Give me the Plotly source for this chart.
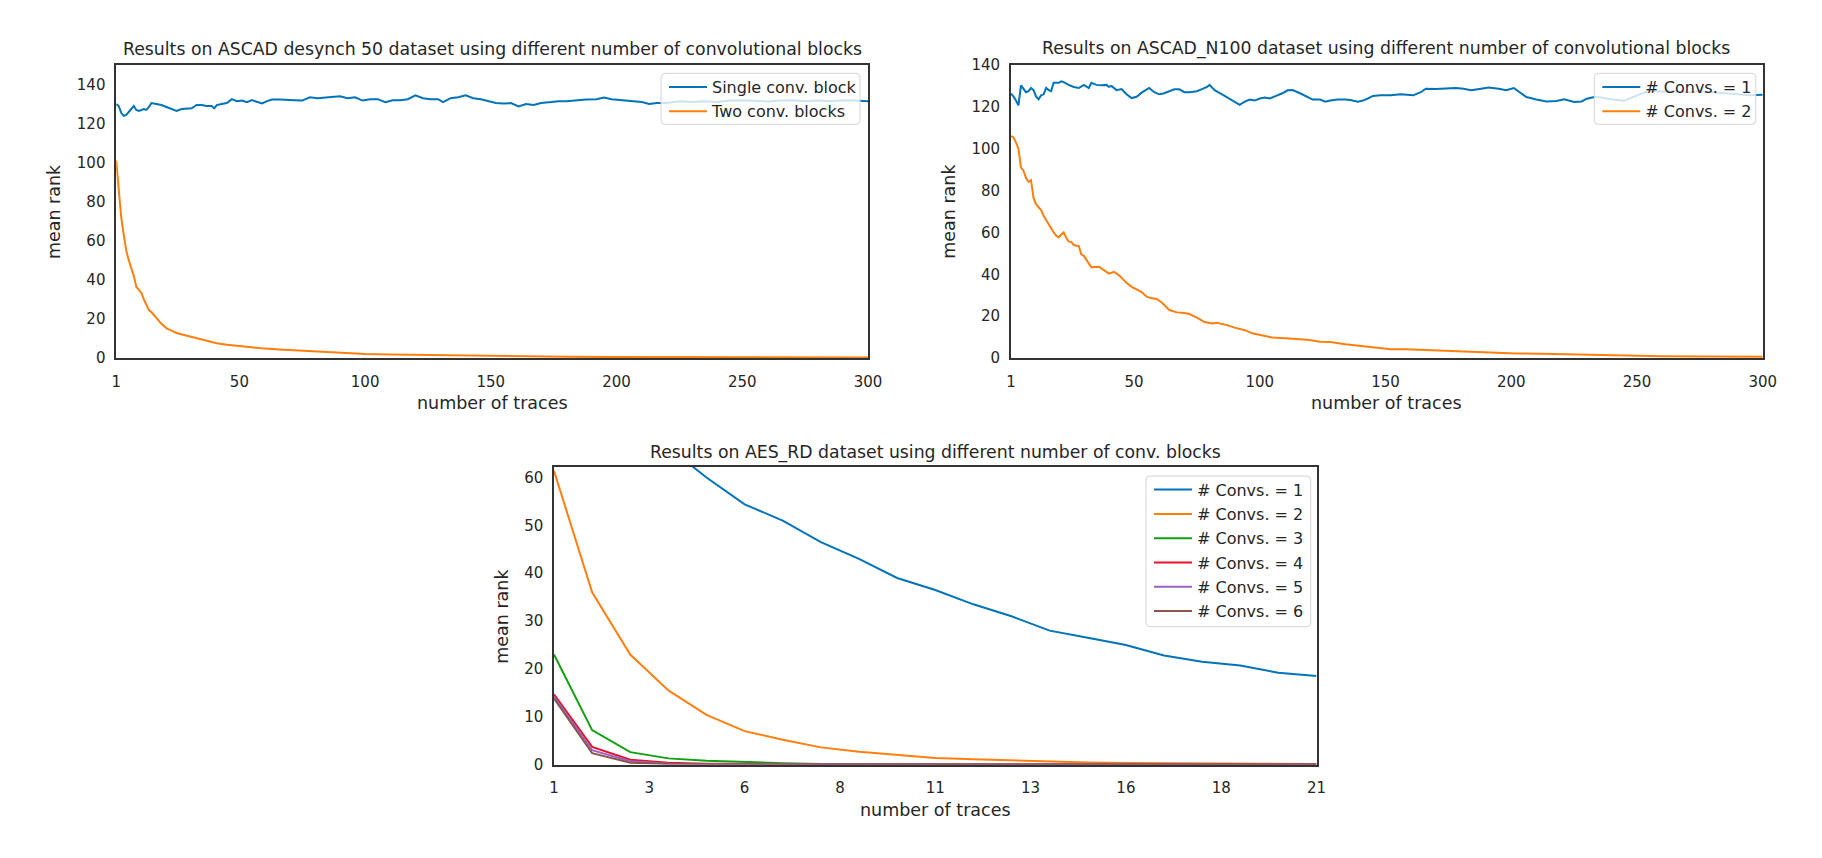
import plotly.graph_objects as go

# ---------------- data: top-left (ASCAD desynch 50) ----------------
tl_single_x = [1, 2, 3, 4, 5, 6, 7, 8, 9, 10, 12, 13, 14, 15, 17, 19, 21, 23, 25, 27, 29, 31, 33, 35, 37, 39, 40, 41,
               43, 45, 47, 49, 51, 53, 55, 57, 59, 61, 63, 66, 69, 72, 75, 78, 81, 84, 87, 90, 93, 96, 99, 102, 105,
               108, 111, 114, 117, 120, 123, 126, 129, 131, 134, 137, 140, 143, 146, 149, 152, 155, 158, 161, 164,
               167, 170, 174, 177, 180, 184, 188, 192, 195, 198, 202, 206, 210, 213, 216, 220, 225, 230, 235, 240,
               245, 250, 255, 260, 265, 270, 275, 280, 285, 290, 295, 300]
tl_single_y = [130, 129, 125.5, 124, 124.5, 126, 127.5, 129, 127, 126.5, 127.5, 127, 128.5, 130.5, 130, 129.5, 128.5,
               127.5, 126.5, 127.5, 127.8, 127.8, 129.5, 129.5, 129, 129, 127.8, 129.5, 130, 130.5, 132.5, 131.5,
               131.8, 131, 132, 131.3, 130.3, 131.5, 132.3, 132.3, 132, 132, 131.8, 133.5, 133, 133.3, 133.5, 134,
               133, 133.5, 131.8, 132.5, 132.5, 131, 132, 132, 132.5, 134.5, 133, 132.5, 132.5, 131, 133, 133.5,
               134.5, 133, 132.5, 131.5, 130.5, 130.3, 130.5, 128.8, 130, 129.5, 130.5, 131, 131.5, 131.5, 132,
               132.3, 132.5, 133.3, 132.5, 132, 131.5, 131, 130, 130.5, 130.5, 131.5, 131, 131.5, 131, 131.8, 132,
               131.5, 131.3, 131.8, 132, 131.5, 131.8, 131.5, 132, 131.8, 131.5]

tl_two_x = [1, 2, 3, 4, 5, 6, 7, 8, 9, 10, 11, 12, 13, 14, 15, 16, 17, 18, 19, 20, 21, 23, 25, 28, 31, 35, 38, 41,
            45, 50, 55, 60, 66, 74, 80, 87, 94, 100, 110, 120, 130, 140, 150, 165, 180, 200, 220, 250, 275, 300]
tl_two_y = [101, 85, 72, 63, 55, 50, 46.5, 42, 36.5, 35, 33.3, 30, 27, 24.5, 23.5, 21.8, 20.5, 19, 17.5, 16.2, 15.2,
            14, 12.8, 11.8, 10.8, 9.6, 8.6, 7.6, 6.8, 6.1, 5.3, 4.8, 4.3, 3.7, 3.2, 2.7, 2.3, 2.0, 1.8, 1.6, 1.3,
            1.1, 0.9, 0.7, 0.6, 0.5, 0.4, 0.3, 0.25, 0.2]

# ---------------- data: top-right (ASCAD_N100) ----------------
tr_c1_x = [1, 2, 3, 4, 5, 6, 7, 8, 9, 10, 11, 12, 13, 14, 15, 16, 17, 18, 20, 21, 22, 24, 26, 28, 30, 32, 33, 35,
           37, 39, 40, 41, 43, 45, 47, 49, 51, 53, 55, 56, 58, 60, 62, 64, 66, 68, 70, 72, 75, 77, 79, 80, 82, 85,
           88, 90, 92, 94, 96, 98, 100, 102, 104, 106, 109, 111, 113, 116, 119, 121, 124, 126, 128, 131, 134, 136,
           139, 141, 143, 145, 148, 152, 156, 161, 164, 166, 170, 174, 178, 181, 184, 188, 191, 195, 198, 201,
           204, 206, 210, 214, 218, 221, 225, 228, 230, 233, 236, 240, 245, 250, 255, 260, 265, 270, 275, 280,
           285, 290, 295, 300]
tr_c1_y = [126.3, 125, 123, 120.7, 130.3, 128.5, 127, 127.5, 129, 128, 125, 123.6, 125.5, 126, 129, 128, 127.5,
           131.5, 131.5, 132.2, 131.8, 130.5, 129.5, 129, 130.5, 129, 131.5, 130.5, 130.3, 130.5, 129.5, 130, 128,
           128.5, 126, 124.2, 124.8, 126.8, 128.5, 129, 127, 126, 126.5, 127.3, 128.4, 128.4, 127, 127, 127.5,
           128.5, 129.5, 130.5, 128, 126, 124, 122.5, 121, 122.5, 123.5, 123, 124, 124.5, 124, 125, 126.5, 127.9,
           128, 126.5, 124.5, 123.5, 123.5, 122.5, 123, 123.5, 123.5, 123.3, 122.5, 123, 124, 125.2, 125.5, 125.5,
           126, 125.5, 127, 128.7, 128.5, 128.7, 129, 128.7, 127.9, 128.7, 129.2, 128.7, 127.9, 129, 126.5, 124.7,
           123.5, 122.6, 122.8, 123.6, 122.3, 122.6, 123.9, 124.7, 124.5, 123.5, 122.9, 125.5, 127.7, 127.3,
           127.5, 127, 127.5, 127, 126.5, 126, 125.5, 125.8]

tr_c2_x = [1, 2, 3, 4, 5, 6, 7, 8, 9, 10, 11, 12, 13, 14, 15, 16, 17, 18, 19, 20, 21, 22, 23, 24, 25, 26, 28, 29,
           30, 31, 33, 34, 36, 38, 40, 42, 44, 47, 49, 51, 53, 55, 57, 59, 61, 64, 67, 70, 72, 75, 78, 81, 83, 85,
           87, 90, 94, 97, 101, 105, 110, 115, 119, 124, 128, 134, 140, 145, 152, 158, 166, 175, 183, 193, 202,
           212, 222, 232, 240, 247, 260, 280, 300]
tr_c2_y = [106, 105.5, 103, 100, 91, 89.5, 86, 84.2, 85, 76.5, 73.5, 72, 70.7, 68, 66, 63.5, 61.4, 60, 58.5, 57.6,
           59, 60, 57.5, 55.6, 55.5, 54, 53.5, 49.5, 48.8, 47, 43.3, 43.5, 43.6, 42, 40.3, 41.2, 39.5, 35.9, 34,
           32.8, 31.5, 29.3, 28.5, 28.2, 26.5, 22.9, 21.8, 21.5, 21, 19.3, 17.2, 16.5, 16.8, 16.2, 15.7, 14.5, 13.3,
           11.8, 10.8, 9.8, 9.4, 8.9, 8.7, 7.8, 7.6, 6.6, 5.8, 5.1, 4.2, 4.2, 3.8, 3.6, 3.0, 2.5, 2.2, 2.0, 1.7,
           1.4, 1.4, 0.9, 0.8, 0.7, 0.6]

# ---------------- data: bottom (AES_RD) ----------------
rd_x = list(range(1, 22))
rd_c1 = [120, 90, 75, 66.3, 60, 54.4, 51, 46.5, 43, 39, 36.5, 33.5, 31, 28, 26.5, 25, 22.8, 21.5, 20.7, 19.2, 18.5]
rd_c2 = [61.4, 36, 23, 15.5, 10.4, 7.0, 5.2, 3.6, 2.7, 2.0, 1.4, 1.1, 0.85, 0.65, 0.45, 0.35, 0.3, 0.2, 0.15, 0.1, 0.1]
rd_c3 = [23, 7.2, 2.6, 1.3, 0.8, 0.5, 0.3, 0.15, 0.1, 0.08, 0.05, 0.05, 0.03, 0.03, 0.02, 0.02, 0.02, 0.01, 0.01, 0.01, 0.01]
rd_c4 = [14.7, 3.7, 1.0, 0.4, 0.2, 0.1, 0.05, 0.03, 0.02, 0.01, 0.01, 0, 0, 0, 0, 0, 0, 0, 0, 0, 0]
rd_c5 = [14.2, 3.0, 0.7, 0.2, 0.1, 0.05, 0.02, 0.01, 0, 0, 0, 0, 0, 0, 0, 0, 0, 0, 0, 0, 0]
rd_c6 = [13.8, 2.4, 0.4, 0.1, 0.05, 0.02, 0.01, 0, 0, 0, 0, 0, 0, 0, 0, 0, 0, 0, 0, 0, 0]

top_xticks = [1, 50, 100, 150, 200, 250, 300]
rd_xtickvals = [1, 3.5, 6, 8.5, 11, 13.5, 16, 18.5, 21]
rd_xticktext = ["1", "3", "6", "8", "11", "13", "16", "18", "21"]

titles = ["Results on ASCAD desynch 50 dataset using different number of convolutional blocks",
          "Results on ASCAD_N100 dataset using different number of convolutional blocks",
          "Results on AES_RD dataset using different number of conv. blocks"]

colors = ["#0173b8", "#ff7f0e", "#10a010", "#e8102a", "#9a62c9", "#8c564b"]

FONT = "DejaVu Sans"
TXT = "#262626"

# page geometry: the html body has an 8px margin, so the figure is made 16px smaller
W, H, OFF = 1806, 842, 8


def px(x):
    return (x - OFF) / W


def py(y):
    return 1 - (y - OFF) / H


fig = go.Figure()


def add(x, y, name, color, xa, ya, leg):
    fig.add_trace(go.Scatter(x=x, y=y, mode="lines", name=name, xaxis=xa, yaxis=ya, legend=leg,
                             legendgroup=leg + name, line=dict(color=color, width=2)))


add(tl_single_x, tl_single_y, "Single conv. block", colors[0], "x", "y", "legend")
add(tl_two_x, tl_two_y, "Two conv. blocks", colors[1], "x", "y", "legend")
add(tr_c1_x, tr_c1_y, "# Convs. = 1", colors[0], "x2", "y2", "legend2")
add(tr_c2_x, tr_c2_y, "# Convs. = 2", colors[1], "x2", "y2", "legend2")
for i, ser in enumerate([rd_c1, rd_c2, rd_c3, rd_c4, rd_c5, rd_c6]):
    add(rd_x, ser, "# Convs. = %d" % (i + 1), colors[i], "x3", "y3", "legend3")

ax_common = dict(showline=True, mirror=True, linecolor="#333333", linewidth=1.5, showgrid=False,
                 zeroline=False, ticks="", automargin=False, tickfont=dict(family=FONT, size=15, color=TXT))
xax = dict(ticklabelstandoff=9, **ax_common)
yax = dict(ticklabelstandoff=6, **ax_common)

TL = (116.2, 868.0, 65.0, 358.0)
TR = (1010.9, 1762.7, 65.0, 358.0)
BT = (554.0, 1316.5, 467.0, 764.6)

fig.update_layout(
    width=W, height=H, margin=dict(l=0, r=0, t=0, b=0, pad=0, autoexpand=False),
    paper_bgcolor="white", plot_bgcolor="white",
    font=dict(family=FONT, color=TXT),
    xaxis=dict(domain=[px(TL[0]), px(TL[1])], anchor="y", range=[1, 300], tickvals=top_xticks, **xax),
    yaxis=dict(domain=[py(TL[3]), py(TL[2])], anchor="x", range=[0, 150], tickvals=list(range(0, 141, 20)), **yax),
    xaxis2=dict(domain=[px(TR[0]), px(TR[1])], anchor="y2", range=[1, 300], tickvals=top_xticks, **xax),
    yaxis2=dict(domain=[py(TR[3]), py(TR[2])], anchor="x2", range=[0, 140], tickvals=list(range(0, 141, 20)), **yax),
    xaxis3=dict(domain=[px(BT[0]), px(BT[1])], anchor="y3", range=[1, 21], tickvals=rd_xtickvals,
                ticktext=rd_xticktext, **xax),
    yaxis3=dict(domain=[py(BT[3]), py(BT[2])], anchor="x3", range=[0, 62.2], tickvals=list(range(0, 61, 10)), **yax),
)

# legend frames (rounded, semi-transparent like matplotlib) drawn as shapes above the traces
legend_boxes = {"legend": (661.0, 860.0, 73.3, 124.3),
                "legend2": (1594.3, 1755.8, 73.3, 124.3),
                "legend3": (1146.0, 1310.7, 476.0, 626.7)}
R = 4.0
for key, (x0, x1, y0, y1) in legend_boxes.items():
    path = ("M{a},{b} L{c},{b} Q{x1},{b} {x1},{d} L{x1},{e} Q{x1},{f} {c},{f} L{a},{f} Q{x0},{f} {x0},{e} "
            "L{x0},{d} Q{x0},{b} {a},{b} Z").format(
        a=px(x0 + R), c=px(x1 - R), b=py(y0), d=py(y0 + R), e=py(y1 - R), f=py(y1), x0=px(x0), x1=px(x1))
    fig.add_shape(type="path", path=path, xref="paper", yref="paper", layer="above",
                  fillcolor="rgba(255,255,255,0.8)", line=dict(color="#d4d4d4", width=1))
    fig.update_layout({key: dict(x=px(x0 + 3), y=py(y0 - 3.3), xanchor="left", yanchor="top",
                                 bgcolor="rgba(0,0,0,0)", borderwidth=0, itemwidth=38,
                                 font=dict(family=FONT, size=16, color=TXT),
                                 tracegroupgap=0.5, traceorder="grouped")})

title_pos = [(492.7, 48.8), (1386.0, 48.8), (935.0, 452.0)]
for t, (tx, ty) in zip(titles, title_pos):
    fig.add_annotation(text=t, x=px(tx), y=py(ty), xref="paper", yref="paper", showarrow=False,
                       xanchor="center", yanchor="middle", font=dict(family=FONT, size=17.3, color=TXT))

# axis titles
for (x0, x1, y0, y1), ylab_x, xlab_y in [(TL, 54.6, 403.2), (TR, 949.3, 403.2), (BT, 502.0, 810.0)]:
    fig.add_annotation(text="number of traces", x=px((x0 + x1) / 2), y=py(xlab_y), xref="paper", yref="paper",
                       showarrow=False, xanchor="center", yanchor="middle",
                       font=dict(family=FONT, size=17.5, color=TXT))
    fig.add_annotation(text="mean rank", x=px(ylab_x), y=py((y0 + y1) / 2), xref="paper", yref="paper",
                       showarrow=False, xanchor="center", yanchor="middle", textangle=-90,
                       font=dict(family=FONT, size=17.5, color=TXT))

fig.write_html("out.html")
